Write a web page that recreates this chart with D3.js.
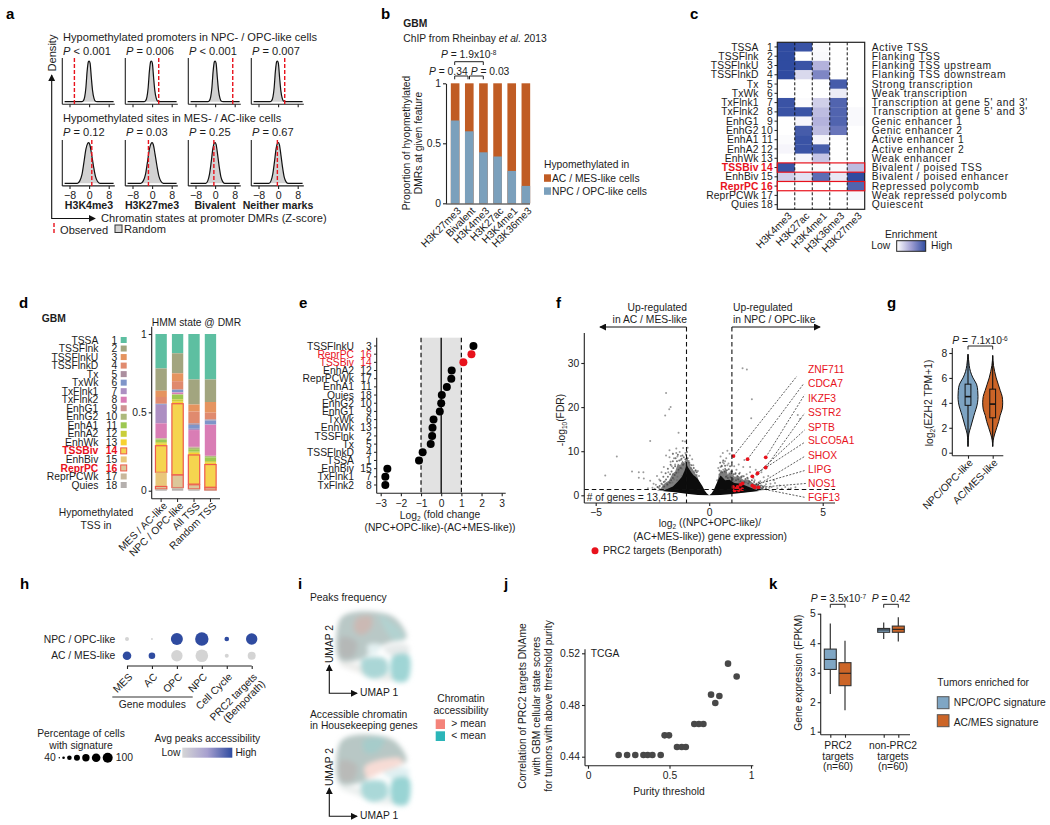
<!DOCTYPE html>
<html>
<head>
<meta charset="utf-8">
<script src="https://cdn.jsdelivr.net/npm/d3@7"></script>
<style>
html, body { margin: 0; padding: 0; background: #fff; }
svg { display: block; }
text { font-family: "Liberation Sans", Arial, sans-serif; fill: #1c1c1c; }
</style>
</head>
<body>
<div id="fig"></div>
<script>
// colours shared by panels
var blue = "#7ba0bc", orange = "#c05c24", red = "#e8121c", heatBlue = "#2f4ba0";

// panel a
var aTitles = ["H3K4me3", "H3K27me3", "Bivalent", "Neither marks"];
var aPvalTop = ["< 0.001", "= 0.006", "< 0.001", "= 0.007"];
var aPvalBottom = ["= 0.12", "= 0.03", "= 0.25", "= 0.67"];
var aObservedTop = [-6, 2.7, 7.2, 2.7];
var aObservedBottom = [1.1, -1.5, -0.5, -0.3];
var aCentersTop = [0, -0.3, 0, -0.3];
var aCentersBottom = [-0.2, 0, 0, 0.1];
var densityNarrow = [[-10,0],[-3,0],[-2.4,.02],[-1.8,.12],[-1.3,.35],[-.8,.75],[-.3,.98],[0,1],[.4,.95],[.9,.6],[1.4,.28],[2,.08],[2.6,.01],[3.2,0],[10,0]];
var densityWide = [[-10,0],[-4.6,0],[-3.6,.06],[-2.7,.22],[-1.9,.52],[-1.1,.84],[-.4,.98],[0,1],[.5,.95],[1.2,.72],[2,.42],[2.8,.17],[3.6,.05],[4.6,0],[10,0]];
var densityMid = [[-10,0],[-3.8,0],[-3,.06],[-2.3,.22],[-1.6,.52],[-.9,.86],[-.3,.99],[0,1],[.4,.96],[1,.72],[1.7,.4],[2.4,.15],[3.1,.04],[3.9,0],[10,0]];

// panel b
var bFeatures = ["H3K27me3", "Bivalent", "H3K4me3", "H3K27ac", "H3K4me1", "H3K36me3"];
var bNpc = [0.69, 0.60, 0.425, 0.39, 0.27, 0.145];

// panel c
var stateNames = ["TSSA","TSSFlnk","TSSFlnkU","TSSFlnkD","Tx","TxWk","TxFlnk1","TxFlnk2","EnhG1","EnhG2","EnhA1","EnhA2","EnhWk","TSSBiv","EnhBiv","ReprPC","ReprPCWk","Quies"];
var stateDescriptions = ["Active TSS","Flanking TSS","Flanking TSS upstream","Flanking TSS downstream","Strong transcription","Weak transcription","Transcription at gene 5' and 3'","Transcription at gene 5' and 3'","Genic enhancer 1","Genic enhancer 2","Active enhancer 1","Active enhancer 2","Weak enhancer","Bivalent / poised TSS","Bivalent / poised enhancer","Repressed polycomb","Weak repressed polycomb","Quiescent"];
var cMarks = ["H3K4me3","H3K27ac","H3K4me1","H3K36me3","H3K27me3"];
var cValues = [
  [1,.95,.02,0,0],[1,0,.03,0,0],[1,.95,.4,0,0],[1,.2,.65,0,0],[0,0,0,.9,0],[0,0,0,.1,0],
  [.95,.02,.25,.85,0],[.95,.95,.35,.85,.03],[0,.05,.4,.85,.03],[0,.9,.35,.75,0],[.02,.95,.05,0,0],[.05,.95,.9,0,0],
  [0,.05,.3,0,0],[.95,0,.02,.02,.35],[.25,.15,.8,.12,1],[0,0,0,0,.85],[0,0,0,0,.04],[0,0,0,0,0]
];

// panel d
var dBars = ["MES / AC-like", "NPC / OPC-like", "All TSS", "Random TSS"];
var dColors = ["#5dbfa1","#a2a57f","#e5945f","#e08a6e","#ab8e9e","#7f95c9","#ad8fc2","#d97db5","#cf9393","#adb97b","#9dc852","#c9ce3a","#f7d231","#f5d44f","#e9c77a","#dcc79a","#c8b79b","#b5b0ae"];
var dMes = [.22,.142,.04,.043,.002,.005,.118,.094,.003,.007,.016,.01,.013,.17,.09,.016,.004,.007];
var dNpc = [.123,.128,.05,.052,.004,.014,.003,.01,.001,.002,.03,.015,.013,.453,.002,.08,.008,.012];
var dAll = [.29,.16,.045,.075,.01,.025,.008,.107,.005,.01,.016,.007,.014,.186,.004,.026,.006,.006];
var dRandom = [.29,.144,.068,.043,.007,.025,.003,.197,.002,.008,.024,.01,.012,.145,.003,.015,.002,.002];

// panel e
var eNames = ["TSSFlnkU","ReprPC","TSSBiv","EnhA2","ReprPCWk","EnhA1","Quies","EnhG2","EnhG1","TxWk","EnhWk","TSSFlnk","Tx","TSSFlnkD","TSSA","EnhBiv","TxFlnk1","TxFlnk2"];
var eNumbers = [3,16,14,12,17,11,18,10,9,6,13,2,5,4,1,15,7,8];
var eFold = [1.6,1.5,1.1,.52,.5,.28,.03,0,-.07,-.38,-.43,-.45,-.52,-.92,-1.1,-2.67,-2.77,-2.77];

// panel f: dense part of the cloud as envelopes, sparse points one by one
var fGenes = ["ZNF711","CDCA7","IKZF3","SSTR2","SPTB","SLCO5A1","SHOX","LIPG","NOS1","FGF13"];
var fGeneTargets = [[1.07,8.9],[1.69,8.2],[2.49,8.6],[2.49,6.3],[2.13,5],[1.9,4.3],[2,1.9],[1.9,2.2],[2.17,1.8],[2,1.8]];
var fGeneEnds = [[3.86,27],[4.16,25.3],[4.2,22.8],[4.2,18.6],[4.2,14.8],[4.2,12],[4.2,8.8],[4.2,5.6],[4.3,2.7],[4.2,-.45]];
var fPrcExtra = [[1.47,2.7],[1.38,2.4],[1.05,1.9],[1.2,1.5],[1.3,1.2],[1.45,1.4],[1.12,1.1],[1.25,1.9]];
var fLeftCore = [[0,0],[-.1,.4],[-.2,1.1],[-.3,2.1],[-.4,2.9],[-.5,3.7],[-.6,4.2],[-.7,4.6],[-.8,5.3],[-.9,6.1],[-1,6.9],[-1.08,5.6],[-1.2,4.2],[-1.4,3],[-1.6,2],[-1.9,1.3],[-2.05,1],[-1.5,.7],[-1,.34],[-.5,.08]];
var fRightCore = [[0,0],[.1,.4],[.2,1.2],[.3,2.4],[.4,3.5],[.5,4.5],[.6,4],[.7,3.4],[.9,3.5],[1.1,2.8],[1.4,2.6],[1.7,2],[2,1.4],[2.2,.95],[1.6,.65],[1,.32],[.5,.08]];
var fLeftHalo = [[-.4,2],[-.52,4.4],[-.62,5],[-.72,5.9],[-.82,6.5],[-.92,7.9],[-1,8.8],[-1.08,7.2],[-1.18,7.9],[-1.28,6.8],[-1.38,7.2],[-1.5,5.4],[-1.62,4.9],[-1.78,3.3],[-1.95,2.8],[-2.15,1.5],[-2.3,1.1],[-1.2,.6]];
var fRightHalo = [[.3,1.5],[.42,4.6],[.52,5.8],[.62,5.1],[.72,6.2],[.82,4.7],[.95,5.3],[1.12,4.2],[1.3,4.4],[1.5,3.5],[1.72,3.6],[1.95,2.7],[2.2,2.4],[2.45,1.2],[1.4,.6]];
var fScatterX = [1.47,1.66,1.88,1.85,3.9,4,-1.9,-1.7,-1.76,-1.94,-1.35,-2.6,-1.17,-1.06,-4.07,-4.58,-3.4,-3.1,-2.9,-3.1,-2.88,-2.6,-2.3,-2.1,-2.45,-1.9,-1.75,-1.6,-1.45,-1.3,-1.55,-1.7,-1.65,-1.4,-1.25,-1.15,-1.05,-.95,-.85,-.75,-1.1,-1.3,-1.5,-1.8,-2,-2.2,-2.35,-1.95,-1.6,-1.35,-1.2,-1.05,-.9,-.7,-.6,-1.4,-1.55,-1.7,-1.85,-2.05,-2.25,-2.5,-2.7,-1.1,-1,-.85,-1.25,-1.45,-1.6,-1.75,-.65,-.55,.4,.5,.6,.7,.8,.9,.75,.65,.55,.7,.85,1,1.1,1.2,1.35,1.5,1.65,1.8,1.95,2.1,2.25,2.4,2.55,2.7,2.9,3.1,3.35,3.6,3.8,1.3,1.55,1.8,2.05,2.3,2.6,2.85,1.15,1.4,1.7,2,2.2,2.5,.95,.8,.6,.5,1.05,1.25,1.45,1.75,2.15,2.45,2.75,3,.88,.72,.62,.52,1.1,1.32,1.62,1.9,2.35,2.65,3.2,3.5,.35,.45,.78,-.45,-.5,-.8,-1,-1.2,-1.42,-1.62,-1.82,-2.02,-2.2,-2.4];
var fScatterY = [28.8,28.5,21.8,17.5,18.2,17.3,23.2,20,19.5,18.1,14.2,12.3,12.3,12.2,8.8,4.5,5.4,5.2,5.2,4,3.8,3.3,4.4,5.2,2.6,9,10.2,9.4,10.6,9.8,8.4,7.6,6.6,8.8,8,10.7,9.6,10.8,9,8.2,7.2,6.2,7,5.2,6.4,3.6,2.4,3.2,4.8,5.2,6,7.6,7.8,6.8,5.6,4.2,3.6,2.8,2.2,2.4,1.8,1.7,1.6,5,6.8,7,8.9,9.6,9.4,8.6,5.2,4.6,6.2,8.8,9.6,7.7,10.1,9.4,8.4,7.2,6.7,6,7.2,7.6,6.6,5.8,5.1,6.4,4.8,5.2,3.9,4.6,3.2,4.1,3.2,2.6,2.8,2.2,1.9,1.6,1.8,7,8,6.4,5.8,5.2,4.4,3.4,4.8,4.2,3.8,3.4,2.8,2.5,5.4,6.8,7.5,6.4,3.4,3.8,4.4,3.2,2.3,2.1,1.9,1.6,5,5.2,5.8,5.1,3.1,3,2.9,2.6,2.1,1.7,1.5,1.5,3.4,4.7,4.4,4.4,5.5,6.2,6.6,4.4,3.4,2.9,2.4,1.9,1.6,1.5];
var fNear = [[-1.05,8.2],[-1.12,8.6],[-.95,8.4],[-.88,7.4],[-1.22,8.3],[-1.32,7.9],[-1.42,7.7],[-1.5,6.6],[-1.58,6.2],[-1.66,5.4],[-1.72,4.8],[-1.82,4.2],[-1.9,3.6],[-2,3],[-2.1,2.6],[-2.18,2.1],[-2.28,1.9],[-.78,6.8],[-.68,6.2],[-.6,5.6],[-.55,5.2],[-1.15,6.9],[-1.25,6.2],[-1.35,5.8],[-1.45,5.1],[-1.52,4.6],[-1.6,3.9],[-1.68,3.4],[-1.75,2.9],[-1.85,2.5],[-1.98,2],[-1.02,9.2],[-.98,9.8],[-1.18,9],[-1.38,9.2],[-1.48,8.4],[-1.6,7.7],[-1.7,6.9],[-1.82,6],[-1.92,5],[-2.02,4.2],[-2.15,3.3],[.45,5.6],[.55,6.6],[.48,7.4],[.62,7.9],[.7,6.7],[.78,5.7],[.86,5.9],[.92,6.6],[1,5.4],[1.08,4.8],[1.16,5],[1.24,4.4],[1.32,4.9],[1.42,4.1],[1.52,4.3],[1.6,3.7],[1.68,4],[1.78,3.1],[1.88,3.4],[1.98,3],[2.08,2.6],[2.18,2.9],[2.28,2.2],[2.38,1.8],[2.5,1.6],[.58,5.2],[.66,5.4],[.74,4.2],[.82,3.9],[.94,4.1],[1.04,3.7],[1.18,3.4],[1.28,3.6],[1.38,3.2],[1.55,3],[1.72,2.7],[1.9,2.4]];

// panel g
var gCats = ["NPC/OPC-like", "AC/MES-like"];
var gViolinNpc = [[.5,0],[1,.03],[1.5,.08],[2,.25],[3,.6],[4,.95],[4.5,1],[5,.97],[5.5,.85],[6,.5],[6.5,.25],[7,.12],[7.5,.05],[7.9,0]];
var gViolinAc = [[.5,0],[1,.05],[1.5,.2],[2,.4],[2.5,.6],[3,.75],[3.5,.95],[4,1],[4.5,.95],[5,.75],[5.5,.55],[6,.35],[6.5,.2],[7,.08],[7.8,0]];
var gBoxNpc = [.5,3.8,4.5,5.5,7.9];
var gBoxAc = [.5,2.8,3.9,5.1,7.8];

// panel h
var hCols = ["MES","AC","OPC","NPC","Cell Cycle","PRC2 targets"];
var hRows = ["NPC / OPC-like","AC / MES-like"];
var hPctNpc = [53,43,93,100,56,90];
var hPctAc = [76,66,90,96,53,73];
var hAccNpc = [0,0,1,1,1,1];
var hAccAc = [1,1,0,0,0,0];
var hLegendPct = [40,46,56,63,70,76,83];

// panel i: outlines of the UMAP clusters
var iMain = [[.1,8.8],[1.5,9.8],[4.9,10],[7.7,9.3],[9.4,7.3],[9.6,6.1],[7.2,5.5],[5.8,4.9],[4.4,3.9],[3,3],[.1,2.9]];
var iPale = [[4.1,5.1],[6,5.1],[5.6,4.1],[4.4,3.7]];
var iRight = [[6.3,4.6],[8.4,5.3],[9.9,5],[9.9,3.8],[8.2,3.3],[7,3.8]];
var iLowerLeft = [[3.3,3],[6.6,3.1],[6.9,1],[4.9,.2],[3.4,1]];
var iLowerRight = [[7.7,3.5],[9.9,3.7],[10.2,1.3],[9.6,-.2],[7.7,0]];
var iStripe = [[.1,2.5],[3.7,1.9],[3.7,.9],[6.1,.2],[7.3,1],[7.5,0],[5.4,0],[2.5,1.2],[.1,2.2]];
var iPinkTop = [[2.5,9],[4.6,9.3],[4.6,7.6],[3.2,6.6],[2.2,7.3]];
var iGreyLeft = [[.3,6.3],[2.5,5.6],[2,3.4],[.3,3.4]];
var iTealEdge = [[5.8,9.5],[8.4,7.8],[9.4,6.3],[7.7,5.9]];
var iPinkBand = [[3.7,5.4],[8.7,6.6],[9.1,5.9],[5.8,4.4],[4.1,3.7]];
var iTealTop = [[3.5,9.2],[6.5,9.4],[5.5,7.6],[3.8,7.4]];

// panel j
var jPurity = [.188,.24,.29,.34,.366,.395,.446,.47,.497,.546,.575,.6,.652,.68,.708,.755,.781,.806,.859,.912];
var jCorr = [.4413,.4413,.4413,.4413,.4413,.4413,.4413,.4565,.4565,.4475,.4475,.4475,.4653,.4653,.4653,.488,.4815,.487,.512,.502];

// panel k: low, q1, median, q3, high
var kBoxes = [[2.28,3.11,3.45,3.8,4.67],[1.73,2.56,2.98,3.34,4.08],[4.14,4.37,4.45,4.5,4.7],[4.06,4.37,4.47,4.58,4.88]];
var kKeys = ["prc-npc","prc-ac","non-npc","non-ac"];

var svg = d3.select("#fig").append("svg").attr("width", 1050).attr("height", 825);
var defs = svg.append("defs");

// arrow heads
defs.append("marker").attr("id", "arrow").attr("viewBox", "0 0 8 8").attr("refX", 7).attr("refY", 4)
    .attr("markerWidth", 7).attr("markerHeight", 7).attr("orient", "auto-start-reverse").attr("markerUnits", "userSpaceOnUse")
    .append("path").attr("d", "M0,0L8,4L0,8Z").attr("fill", "#111");
defs.append("filter").attr("id", "soft").attr("x", "-20%").attr("y", "-20%").attr("width", "140%").attr("height", "140%")
    .append("feGaussianBlur").attr("stdDeviation", 2.4);

// text helper: parts are strings or {t, i, b, sup, sub}
function txt(x, y, parts, o) {
    o = o || {};
    var t = svg.append("text")
        .attr("text-anchor", o.anchor || "start")
        .attr("font-size", o.size || 10.3)
        .attr("font-weight", o.bold ? "bold" : null)
        .attr("dy", ".35em")
        .attr("transform", "translate(" + x + "," + y + ")" + (o.rot ? " rotate(" + o.rot + ")" : ""))
        .style("fill", o.color || null);
    if (o.spacing) t.attr("letter-spacing", o.spacing);
    [].concat(parts).forEach(function(p) {
        if (typeof p === "string") { t.append("tspan").text(p); return; }
        var s = t.append("tspan").text(p.t);
        if (p.i) s.attr("font-style", "italic");
        if (p.sup) s.attr("font-size", 6.5).attr("dy", "-.45em");
        if (p.sub) s.attr("font-size", 6.5).attr("dy", ".35em");
        if (p.after) s.attr("dy", p.after);
    });
    return t;
}
var P = {t: "P", i: true};

function styleAxis(g, color) {
    g.selectAll("path, line").attr("stroke", color || "#222").attr("stroke-width", 1.1);
    g.selectAll("text").attr("font-size", 10.3).style("fill", "#1c1c1c");
}
function axisLeft(scale, x, vals, fmt, range) {
    var g = svg.append("g").attr("transform", "translate(" + x + ",0)")
        .call(d3.axisLeft(scale).tickValues(vals).tickFormat(fmt || d3.format("")).tickSize(3).tickPadding(2).tickSizeOuter(0));
    styleAxis(g);
    if (range) g.select(".domain").attr("d", "M0," + range[0] + "V" + range[1]);
    return g;
}
function axisBottom(scale, y, vals, fmt, range) {
    var g = svg.append("g").attr("transform", "translate(0," + y + ")")
        .call(d3.axisBottom(scale).tickValues(vals).tickFormat(fmt || d3.format("")).tickSize(3).tickPadding(3).tickSizeOuter(0));
    styleAxis(g);
    if (range) g.select(".domain").attr("d", "M" + range[0] + ",0H" + range[1]);
    return g;
}
function bracket(x0, x1, yTop, drop) {
    svg.append("path").attr("d", "M" + x0 + "," + (yTop + drop) + "V" + yTop + "H" + x1 + "V" + (yTop + drop))
        .attr("fill", "none").attr("stroke", "#222").attr("stroke-width", 1);
}
function letter(s, x, y) { txt(x, y, s, {size: 15, bold: true, color: "#000"}); }

letter("a", 6, 14); letter("b", 381, 14); letter("c", 690, 14);
letter("d", 19, 303); letter("e", 299, 303); letter("f", 556, 303); letter("g", 887, 303);
letter("h", 20, 584); letter("i", 298, 584); letter("j", 504, 584); letter("k", 769, 584);

// ---------- a ----------
var aSize = 11.1;
function densityPanel(col, axisTop, baseY, peakY, shape, center, observed, showLabels) {
    var x0 = 62.3 + col * 63;
    var x = d3.scaleLinear().domain([-8, 8]).range([69.5 + col * 63, 108.7 + col * 63]);
    var y = d3.scaleLinear().domain([0, 1]).range([baseY, peakY]);
    var pts = shape.map(function(d) {
        var z = d[0] === -10 || d[0] === 10 ? d[0] : d[0] + center;
        return [z, d[1]];
    });
    svg.append("path").datum(pts)
        .attr("d", d3.area().x(function(d) { return x(d[0]); }).y0(y(0)).y1(function(d) { return y(d[1]); }).curve(d3.curveMonotoneX))
        .attr("fill", "#d2d2d2");
    svg.append("path").datum(pts)
        .attr("d", d3.line().x(function(d) { return x(d[0]); }).y(function(d) { return y(d[1]); }).curve(d3.curveMonotoneX))
        .attr("fill", "none").attr("stroke", "#111").attr("stroke-width", 1.2);
    var ax = axisBottom(x, baseY + 2.6, [-8, 0, 8], showLabels ? d3.format("") : function() { return ""; }, [x0, x0 + 52.5]);
    ax.selectAll("text").attr("font-size", 10.6);
    svg.append("line").attr("x1", x0).attr("x2", x0).attr("y1", axisTop).attr("y2", baseY + 2.6).attr("stroke", "#222").attr("stroke-width", 1.1);
    svg.append("line").attr("x1", x(observed)).attr("x2", x(observed)).attr("y1", axisTop).attr("y2", baseY + 2.6)
        .attr("stroke", red).attr("stroke-width", 1.4).attr("stroke-dasharray", "4,2");
}
aTitles.forEach(function(t, i) {
    densityPanel(i, 58, 101.7, 61, densityNarrow, aCentersTop[i], aObservedTop[i], false);
    densityPanel(i, 140, 183.3, 142.7, i < 2 ? densityWide : densityMid, aCentersBottom[i], aObservedBottom[i], true);
    txt(63 + i * 63, 51, [P, " " + aPvalTop[i]], {size: aSize});
    txt(63 + i * 63, 132, [P, " " + aPvalBottom[i]], {size: aSize});
    txt(89 + i * 63, 205, t, {anchor: "middle", bold: true, size: 10.6});
});
txt(63, 37, "Hypomethylated promoters in NPC- / OPC-like cells", {size: aSize});
txt(63, 118, "Hypomethylated sites in MES- / AC-like cells", {size: aSize});
txt(52, 53, "Density", {anchor: "middle", rot: -90, size: aSize});
txt(101, 218.5, "Chromatin states at promoter DMRs (Z-score)", {size: aSize});
svg.append("path").attr("d", "M51.7,75V218.5H95").attr("fill", "none").attr("stroke", "#111").attr("stroke-width", 1.1)
    .attr("marker-start", "url(#arrow)").attr("marker-end", "url(#arrow)");
svg.append("line").attr("x1", 54).attr("x2", 54).attr("y1", 223).attr("y2", 235).attr("stroke", red).attr("stroke-width", 1.4).attr("stroke-dasharray", "4,2");
txt(60, 230, "Observed", {size: aSize});
svg.append("rect").attr("x", 115).attr("y", 225).attr("width", 7).attr("height", 7.5).attr("fill", "#d2d2d2").attr("stroke", "#333");
txt(124, 229, "Random", {size: aSize});

// ---------- b ----------
var bx = d3.scaleBand().domain(bFeatures).range([448, 533]).paddingInner(0.39).paddingOuter(0.2);
var by = d3.scaleLinear().domain([0, 1]).range([203.3, 83.3]);
svg.selectAll(".bar-ac").data(bFeatures).enter().append("rect")
    .attr("x", function(d) { return bx(d); }).attr("width", bx.bandwidth())
    .attr("y", by(1)).attr("height", by(0) - by(1)).attr("fill", orange);
svg.selectAll(".bar-npc").data(bFeatures).enter().append("rect")
    .attr("x", function(d) { return bx(d); }).attr("width", bx.bandwidth())
    .attr("y", function(d, i) { return by(bNpc[i]); }).attr("height", function(d, i) { return by(0) - by(bNpc[i]); }).attr("fill", blue);
axisLeft(by, 446, [0, .5, 1], d3.format("~g"));
axisBottom(d3.scaleLinear().domain([0, 1]).range([446, 530]), 204, [], null, [446, 530]);
bFeatures.forEach(function(f) {
    txt(bx(f) + bx.bandwidth() / 2 + 4, 209, f, {anchor: "end", rot: -45});
});
txt(403.3, 23, "GBM", {bold: true});
txt(403.3, 38, ["ChIP from Rheinbay ", {t: "et al.", i: true}, " 2013"]);
txt(441, 54, [P, " = 1.9x10", {t: "-8", sup: true}]);
txt(429, 71, [P, " = 0.34"]);
txt(470.7, 71, [P, " = 0.03"]);
bracket(454.7, 483.3, 61.7, 3.3);
bracket(454.7, 468, 76, 3.3);
bracket(469.5, 483.3, 76, 3.3);
txt(406.7, 143, "Proportion of hyopmethylated", {anchor: "middle", rot: -90});
txt(418.5, 143, "DMRs at given feature", {anchor: "middle", rot: -90});
txt(544, 164, "Hypomethylated in");
svg.append("rect").attr("x", 544).attr("y", 174.3).attr("width", 7).attr("height", 7.5).attr("fill", orange);
svg.append("rect").attr("x", 544).attr("y", 187.3).attr("width", 7).attr("height", 7.5).attr("fill", blue);
txt(552, 178, "AC / MES-like cells");
txt(552, 191, "NPC / OPC-like cells");

// ---------- c ----------
var cx = d3.scaleBand().domain(cMarks).range([777.3, 864.7]);
var cy = d3.scaleBand().domain(stateNames).range([42.3, 209.3]);
var cColor = d3.scaleLinear().domain([0, .5, 1]).range(["#ffffff", "#a09fd3", heatBlue]);
stateNames.forEach(function(name, r) {
    var isRed = name === "TSSBiv" || name === "ReprPC";
    cMarks.forEach(function(m, c) {
        svg.append("rect").attr("x", cx(m)).attr("y", cy(name)).attr("width", cx.bandwidth() + .3).attr("height", cy.bandwidth() + .3)
            .attr("fill", cColor(cValues[r][c]));
    });
    var yMid = cy(name) + cy.bandwidth() / 2;
    txt(758.5, yMid, name, {anchor: "end", color: isRed ? red : null, bold: isRed, spacing: .1});
    txt(773, yMid, String(r + 1), {anchor: "end", color: isRed ? red : null, bold: isRed, spacing: .25});
    svg.append("line").attr("x1", 774.5).attr("x2", 777.3).attr("y1", yMid).attr("y2", yMid).attr("stroke", "#222");
    txt(871.7, yMid, stateDescriptions[r], {spacing: .6});
});
cMarks.slice(1).forEach(function(m) {
    svg.append("line").attr("x1", cx(m)).attr("x2", cx(m)).attr("y1", 42.3).attr("y2", 209.3)
        .attr("stroke", "#111").attr("stroke-width", 1).attr("stroke-dasharray", "3,2");
});
svg.append("rect").attr("x", 777.3).attr("y", 42.3).attr("width", 87.4).attr("height", 167).attr("fill", "none").attr("stroke", "#222").attr("stroke-width", 1.2);
["TSSBiv", "ReprPC"].forEach(function(s) {
    svg.append("rect").attr("x", 777.3).attr("y", cy(s)).attr("width", 87.4).attr("height", cy.bandwidth())
        .attr("fill", "none").attr("stroke", red).attr("stroke-width", 1.2);
});
cMarks.forEach(function(m) {
    txt(cx(m) + cx.bandwidth() / 2 + 4, 214, m, {anchor: "end", rot: -45});
});
txt(911, 234, "Enrichment", {anchor: "middle"});
txt(880.7, 245.5, "Low", {anchor: "middle"});
txt(941.7, 245.5, "High", {anchor: "middle"});
function gradient(id, stops) {
    var g = defs.append("linearGradient").attr("id", id);
    stops.forEach(function(s, i) {
        g.append("stop").attr("offset", (i / (stops.length - 1) * 100) + "%").attr("stop-color", s);
    });
}
gradient("enrich", ["#ffffff", "#a09fd3", heatBlue]);
gradient("access", ["#d6d6d6", "#a7a0cf", heatBlue]);
svg.append("rect").attr("x", 896.7).attr("y", 240.7).attr("width", 29).attr("height", 10.6).attr("fill", "url(#enrich)").attr("stroke", "#222");

// ---------- d ----------
var dx = d3.scaleBand().domain(dBars).range([153, 218.6]).paddingInner(.31).paddingOuter(.15);
var dy = d3.scaleLinear().domain([0, 1]).range([490.7, 334]);
var dSeries = [dMes, dNpc, dAll, dRandom];
var dRowY = d3.scalePoint().domain(stateNames).range([340, 485]);
dBars.forEach(function(b, j) {
    // bars stack from 1 downwards, state 1 on top
    var top = 1;
    dSeries[j].forEach(function(v, i) {
        var isOutlined = i === 13 || i === 15;
        svg.append("rect").attr("x", dx(b)).attr("width", dx.bandwidth())
            .attr("y", dy(top)).attr("height", dy(top - v) - dy(top))
            .attr("fill", dColors[i])
            .attr("stroke", isOutlined ? "#ee5a4c" : "none").attr("stroke-width", 1.2);
        top -= v;
    });
    txt(dx(b) + dx.bandwidth() / 2 + 4, 504, b, {anchor: "end", rot: -45});
});
axisLeft(dy, 151.7, [0, .5, 1], d3.format("~g"), [dy(1) - 7.3, dy(0) + 8]);
axisBottom(d3.scalePoint().domain(dBars).range([dx(dBars[0]) + dx.bandwidth() / 2, dx(dBars[3]) + dx.bandwidth() / 2]), 498.7, [], null, [151.7, 220]);
dBars.forEach(function(b) {
    var xm = dx(b) + dx.bandwidth() / 2;
    svg.append("line").attr("x1", xm).attr("x2", xm).attr("y1", 498.7).attr("y2", 502).attr("stroke", "#222");
});
stateNames.forEach(function(name, i) {
    var isRed = name === "TSSBiv" || name === "ReprPC";
    txt(98.3, dRowY(name), name, {anchor: "end", color: isRed ? red : null, bold: isRed});
    txt(117.3, dRowY(name), String(i + 1), {anchor: "end", color: isRed ? red : null, bold: isRed});
    svg.append("rect").attr("x", 120.7).attr("y", dRowY(name) - 3).attr("width", 6).attr("height", 6).attr("fill", dColors[i])
        .attr("stroke", isRed ? "#ee5a4c" : "none");
});
txt(41.7, 318, "GBM", {bold: true});
txt(151.7, 322, "HMM state @ DMR");
txt(96, 512.7, "Hypomethylated", {anchor: "middle"});
txt(96, 525, "TSS in", {anchor: "middle"});

// ---------- e ----------
var ex = d3.scaleLinear().domain([-3, 3]).range([380.7, 501.7]);
var ey = d3.scalePoint().domain(eNames).range([346, 485]);
svg.append("rect").attr("x", ex(-1)).attr("y", 337.7).attr("width", ex(1) - ex(-1)).attr("height", 155.6).attr("fill", "#e2e2e2");
[-1, 1].forEach(function(v) {
    svg.append("line").attr("x1", ex(v)).attr("x2", ex(v)).attr("y1", 337.7).attr("y2", 493.3)
        .attr("stroke", "#111").attr("stroke-width", 1.2).attr("stroke-dasharray", "4.5,3");
});
svg.append("line").attr("x1", ex(0)).attr("x2", ex(0)).attr("y1", 337.7).attr("y2", 493.3).attr("stroke", "#111").attr("stroke-width", 1.4);
eNames.forEach(function(n, i) {
    var c = n === "ReprPC" || n === "TSSBiv" ? red : null;
    txt(354, ey(n), n, {anchor: "end", color: c});
    txt(371.7, ey(n), String(eNumbers[i]), {anchor: "end", color: c});
    svg.append("line").attr("x1", 374).attr("x2", 376.7).attr("y1", ey(n)).attr("y2", ey(n)).attr("stroke", "#222");
    svg.append("circle").attr("cx", ex(eFold[i])).attr("cy", ey(n)).attr("r", 4).attr("fill", c || "#000");
});
svg.append("line").attr("x1", 376.7).attr("x2", 376.7).attr("y1", 337.7).attr("y2", 493.3).attr("stroke", "#222").attr("stroke-width", 1.1);
axisBottom(ex, 493.3, [-3, -2, -1, 0, 1, 2, 3], d3.format("d"), [376.7, 505.7]);
txt(440, 515, ["Log", {t: "2", sub: true}, {t: " (fold change", after: "-.25em"}], {anchor: "middle"});
txt(440, 527, "(NPC+OPC-like)-(AC+MES-like))", {anchor: "middle"});

// ---------- f ----------
var fx = d3.scaleLinear().domain([-5, 5]).range([595.7, 822.7]);
var fy = d3.scaleLinear().domain([0, 30]).range([495.3, 363]);
var hullLine = d3.line().x(function(d) { return fx(d[0]); }).y(function(d) { return fy(d[1]); }).curve(d3.curveLinearClosed);
[fLeftHalo, fRightHalo].forEach(function(h) {
    svg.append("path").attr("d", hullLine(h)).attr("fill", "#3c3c3c").attr("opacity", .66);
});
fScatterX.forEach(function(x, i) {
    svg.append("circle").attr("cx", fx(x)).attr("cy", fy(fScatterY[i])).attr("r", 1).attr("fill", "#666").attr("opacity", .65);
});
fNear.forEach(function(d) {
    svg.append("circle").attr("cx", fx(d[0])).attr("cy", fy(d[1])).attr("r", 1).attr("fill", "#444").attr("opacity", .75);
});
[fLeftCore, fRightCore].forEach(function(h) {
    svg.append("path").attr("d", hullLine(h)).attr("fill", "#0c0c0c");
});
fGenes.forEach(function(g, i) {
    svg.append("line").attr("x1", fx(fGeneTargets[i][0])).attr("y1", fy(fGeneTargets[i][1]))
        .attr("x2", fx(fGeneEnds[i][0])).attr("y2", fy(fGeneEnds[i][1]))
        .attr("stroke", "#333").attr("stroke-width", .8).attr("stroke-dasharray", "2,1.5");
});
fGeneTargets.concat(fPrcExtra).forEach(function(d) {
    svg.append("circle").attr("cx", fx(d[0])).attr("cy", fy(d[1])).attr("r", 1.9).attr("fill", red);
});
[-1, 1].forEach(function(v) {
    svg.append("line").attr("x1", fx(v)).attr("x2", fx(v)).attr("y1", 327).attr("y2", 503)
        .attr("stroke", "#111").attr("stroke-width", 1.1).attr("stroke-dasharray", "4.5,3");
});
svg.append("line").attr("x1", 584.3).attr("x2", 835).attr("y1", fy(1.3)).attr("y2", fy(1.3))
    .attr("stroke", "#111").attr("stroke-width", 1.1).attr("stroke-dasharray", "4.5,3");
axisLeft(fy, 584.3, [0, 10, 20, 30], d3.format("d"), [333, 503]);
axisBottom(fx, 503, [-5, 0, 5], d3.format("d"), [584.3, 835]);
svg.append("line").attr("x1", fx(-1)).attr("x2", 600).attr("y1", 327).attr("y2", 327).attr("stroke", "#111").attr("marker-end", "url(#arrow)");
svg.append("line").attr("x1", fx(1)).attr("x2", 820).attr("y1", 327).attr("y2", 327).attr("stroke", "#111").attr("marker-end", "url(#arrow)");
txt(687, 307, "Up-regulated", {anchor: "end"});
txt(687, 319.5, "in AC / MES-like", {anchor: "end"});
txt(733, 307, "Up-regulated");
txt(733, 319.5, "in NPC / OPC-like");
var fLabelY = [369, 383.7, 398, 412, 427, 440, 455, 469, 483.7, 497];
fGenes.forEach(function(g, i) { txt(808, fLabelY[i], g, {color: red}); });
txt(586.7, 497, "# of genes = 13,415");
txt(561, 420, ["-log", {t: "10", sub: true}, {t: "(FDR)", after: "-.25em"}], {anchor: "middle", rot: -90});
txt(710, 523, ["log", {t: "2", sub: true}, {t: " ((NPC+OPC-like)/", after: "-.25em"}], {anchor: "middle"});
txt(710, 536, "(AC+MES-like)) gene expression)", {anchor: "middle"});
svg.append("circle").attr("cx", 595).attr("cy", 550.7).attr("r", 3.5).attr("fill", red);
txt(603, 550, "PRC2 targets (Benporath)");

// ---------- g ----------
var gx = d3.scalePoint().domain(gCats).range([968, 992.7]);
var gy = d3.scaleLinear().domain([0, 8]).range([452.7, 353]);
var gColors = ["#7da3c2", "#cb6427"];
[gViolinNpc, gViolinAc].forEach(function(v, i) {
    var c = gx(gCats[i]);
    var w = d3.scaleLinear().domain([0, 1]).range([0, 10]);
    svg.append("path").datum(v)
        .attr("d", d3.area().y(function(d) { return gy(d[0]); }).x0(function(d) { return c - w(d[1]); }).x1(function(d) { return c + w(d[1]); }).curve(d3.curveMonotoneY))
        .attr("fill", gColors[i]).attr("stroke", "#111").attr("stroke-width", 1);
    var b = i === 0 ? gBoxNpc : gBoxAc;
    svg.append("line").attr("x1", c).attr("x2", c).attr("y1", gy(b[0])).attr("y2", gy(b[4])).attr("stroke", "#111").attr("stroke-width", 1.1);
    svg.append("rect").attr("x", c - 2.9).attr("width", 5.8).attr("y", gy(b[3])).attr("height", gy(b[1]) - gy(b[3]))
        .attr("fill", gColors[i]).attr("stroke", "#111").attr("stroke-width", 1);
    svg.append("line").attr("x1", c - 2.9).attr("x2", c + 2.9).attr("y1", gy(b[2])).attr("y2", gy(b[2])).attr("stroke", "#111").attr("stroke-width", 1.6);
    txt(c + 3, 461, gCats[i], {anchor: "end", rot: -45});
});
axisLeft(gy, 952.3, [0, 2, 4, 6, 8], d3.format("d"), [348, 455.7]);
var gAxis = axisBottom(gx, 455.7, gCats, function() { return ""; }, [952.3, 1003.3]);
bracket(968, 992.7, 346, 3.5);
txt(980, 340.7, [P, " = 7.1x10", {t: "-6", sup: true}], {anchor: "middle"});
txt(929, 403, ["log", {t: "2", sub: true}, {t: "(EZH2 TPM+1)", after: "-.25em"}], {anchor: "middle", rot: -90});

// ---------- h ----------
var hx = d3.scalePoint().domain(hCols).range([127, 251.7]);
var hy = d3.scalePoint().domain(hRows).range([639, 655.7]);
var hSize = d3.scaleLinear().domain([40, 100]).range([.7, 6.7]);
var hColor = d3.scaleLinear().domain([0, .5, 1]).range(["#d4d4d4", "#a7a0cf", heatBlue]);
hCols.forEach(function(c, i) {
    svg.append("circle").attr("cx", hx(c)).attr("cy", hy(hRows[0])).attr("r", hSize(hPctNpc[i])).attr("fill", hColor(hAccNpc[i]));
    svg.append("circle").attr("cx", hx(c)).attr("cy", hy(hRows[1])).attr("r", hSize(hPctAc[i])).attr("fill", hColor(hAccAc[i]));
});
hRows.forEach(function(r) { txt(115.3, hy(r), r, {anchor: "end"}); });
axisBottom(hx, 666, hCols, function() { return ""; }, [127, 251.7]);
hCols.forEach(function(c, i) {
    if (i < 5) txt(hx(c) + 3.5, 675, c, {anchor: "end", rot: -45});
});
txt(hx("PRC2 targets") + 3.5, 675, "PRC2 targets", {anchor: "end", rot: -45});
txt(hx("PRC2 targets") + 11.5, 682, "(Benporath)", {anchor: "end", rot: -45});
svg.append("line").attr("x1", 112.3).attr("x2", 192.7).attr("y1", 697).attr("y2", 697).attr("stroke", "#333").attr("stroke-width", 1.1);
txt(152.3, 704.7, "Gene modules", {anchor: "middle"});
txt(81, 733, "Percentage of cells", {anchor: "middle"});
txt(81, 745, "with signature", {anchor: "middle"});
txt(55.7, 757.5, "40", {anchor: "end"});
txt(115.7, 757.5, "100");
// legend dots sit side by side with a small gap
var legendX = 59.3;
hLegendPct.forEach(function(p, i) {
    if (i > 0) legendX += hSize(hLegendPct[i - 1]) + hSize(p) + 2.25;
    svg.append("circle").attr("cx", legendX).attr("cy", 757.7).attr("r", hSize(p)).attr("fill", "#000");
});
txt(207.3, 738, "Avg peaks accessibility", {anchor: "middle"});
svg.append("rect").attr("x", 182.3).attr("y", 747.7).attr("width", 50).attr("height", 10).attr("fill", "url(#access)");
txt(171, 752, "Low", {anchor: "middle"});
txt(246, 752, "High", {anchor: "middle"});

// ---------- i ----------
function umap(yShift, layers) {
    var ux = d3.scaleLinear().domain([0, 10]).range([339, 409]);
    var uy = d3.scaleLinear().domain([0, 10]).range([680 + yShift, 611.7 + yShift]);
    var path = d3.line().x(function(d) { return ux(d[0]); }).y(function(d) { return uy(d[1]); }).curve(d3.curveCatmullRomClosed);
    var g = svg.append("g").attr("filter", "url(#soft)");
    layers.forEach(function(l) {
        g.append("path").attr("d", path(l[0])).attr("fill", l[1]).attr("opacity", l[2]);
    });
}
umap(0, [[iStripe, "#ececea", 1], [iMain, "#b9c8c6", 1], [iGreyLeft, "#b3b1b1", .7], [iPinkTop, "#d3b2ac", .7], [iTealEdge, "#b0d6d3", .75],
    [iPale, "#e4f1f2", 1], [iRight, "#e6eaea", 1], [iLowerLeft, "#a5d4d4", .95], [iLowerRight, "#9ad3d3", .95]]);
umap(123.3, [[iStripe, "#ebefee", 1], [iMain, "#b8c7c5", 1], [iTealTop, "#a0cdcb", .75], [iGreyLeft, "#b9b1af", .6], [iRight, "#e0f0f2", 1],
    [iPinkBand, "#f7dcd5", 1], [iLowerLeft, "#a5d6d6", .95], [iLowerRight, "#93d2d2", .95]]);
txt(310, 597.7, "Peaks frequency");
txt(310, 714, "Accessible chromatin");
txt(310, 725.5, "in Housekeeping genes");
[0, 123].forEach(function(s) {
    svg.append("path").attr("d", "M329.3," + (665 + s) + "V" + (693.3 + s) + "H357").attr("fill", "none").attr("stroke", "#111")
        .attr("stroke-width", 1.1).attr("marker-start", "url(#arrow)").attr("marker-end", "url(#arrow)");
    txt(329, 644 + s, "UMAP 2", {anchor: "middle", rot: -90});
    txt(360, 692.7 + s, "UMAP 1");
});
txt(461, 698, "Chromatin", {anchor: "middle"});
txt(461, 710.3, "accessibility", {anchor: "middle"});
svg.append("rect").attr("x", 435.7).attr("y", 719.3).attr("width", 9.3).attr("height", 9.7).attr("fill", "#f4837a");
svg.append("rect").attr("x", 435.7).attr("y", 731.3).attr("width", 9.3).attr("height", 9.7).attr("fill", "#2bb5b8");
txt(451.3, 723.3, "> mean");
txt(451.3, 735.7, "< mean");

// ---------- j ----------
var jx = d3.scaleLinear().domain([0, 1]).range([588, 751]);
var jy = d3.scaleLinear().domain([.44, .52]).range([756.7, 653.3]);
jPurity.forEach(function(p, i) {
    svg.append("circle").attr("cx", jx(p)).attr("cy", jy(jCorr[i])).attr("r", 3.3).attr("fill", "#484848");
});
axisLeft(jy, 585, [.44, .48, .52], d3.format(".2f"), [649.3, 765.7]);
axisBottom(jx, 765.7, [0, .5, 1], d3.format("~g"), [585, 753.3]);
txt(590.7, 653.5, "TCGA");
txt(522.7, 706, "Correlation of PRC2 targets DNAme", {anchor: "middle", rot: -90});
txt(536, 706, "with GBM cellular state scores", {anchor: "middle", rot: -90});
txt(548.7, 706, "for tumors with above threshold purity", {anchor: "middle", rot: -90});
txt(669, 791, "Purity threshold", {anchor: "middle"});

// ---------- k ----------
var kx = d3.scaleOrdinal().domain(kKeys).range([830.3, 845, 883.7, 898.3]);
var ky = d3.scaleLinear().domain([1, 5]).range([731.7, 613.7]);
var kFill = ["#7fa6c4", "#cc6527", "#7fa6c4", "#cc6527"];
kKeys.forEach(function(k, i) {
    var b = kBoxes[i], c = kx(k);
    svg.append("line").attr("x1", c).attr("x2", c).attr("y1", ky(b[0])).attr("y2", ky(b[4])).attr("stroke", "#333").attr("stroke-width", 1.2);
    svg.append("rect").attr("x", c - 6).attr("width", 12).attr("y", ky(b[3])).attr("height", ky(b[1]) - ky(b[3]))
        .attr("fill", kFill[i]).attr("stroke", "#333").attr("stroke-width", 1.1);
    svg.append("line").attr("x1", c - 6).attr("x2", c + 6).attr("y1", ky(b[2])).attr("y2", ky(b[2])).attr("stroke", "#222").attr("stroke-width", 1.1);
});
axisLeft(ky, 820.7, [1, 2, 3, 4, 5], d3.format("d"), [613.7, 734.7]);
var kAxis = axisBottom(kx, 734.7, kKeys, function() { return ""; }, [820.7, 910]);
bracket(830.3, 845, 604.3, 3.4);
bracket(883.7, 898.3, 604.3, 3.4);
txt(810.7, 598.3, [P, " = 3.5x10", {t: "-7", sup: true}]);
txt(871.7, 598.3, [P, " = 0.42"]);
txt(798.3, 672.7, "Gene expression (FPKM)", {anchor: "middle", rot: -90});
[["PRC2", 838], ["non-PRC2", 893]].forEach(function(l) {
    txt(l[1], 745.7, l[0], {anchor: "middle"});
    txt(l[1], 756.2, "targets", {anchor: "middle"});
    txt(l[1], 766.7, "(n=60)", {anchor: "middle"});
});
txt(937.3, 682.3, "Tumors enriched for");
svg.append("rect").attr("x", 937.3).attr("y", 696.7).attr("width", 11.7).attr("height", 12).attr("fill", "#7fa6c4").attr("stroke", "#555");
svg.append("rect").attr("x", 937.3).attr("y", 714.7).attr("width", 11.7).attr("height", 12).attr("fill", "#cc6527").attr("stroke", "#555");
txt(953.7, 702.3, "NPC/OPC signature");
txt(953.7, 722, "AC/MES signature");
</script>
</body>
</html>
